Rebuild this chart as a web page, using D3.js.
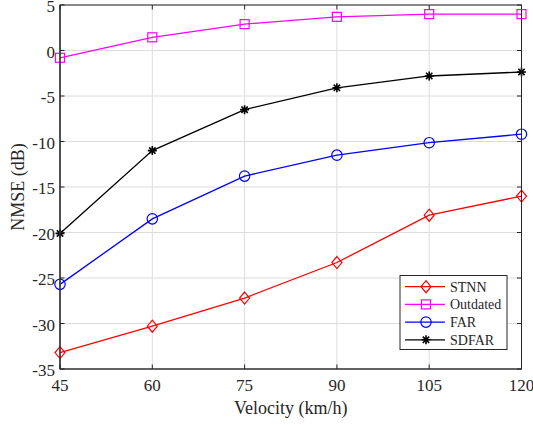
<!DOCTYPE html>
<html><head><meta charset="utf-8">
<script src="https://cdn.jsdelivr.net/npm/d3@7"></script>
<style>body{margin:0;background:#fff}svg{display:block}</style>
</head><body><div id="c"></div>
<script>
const velocity = [45, 60, 75, 90, 105, 120];
const stnn = [-33.2, -30.3, -27.2, -23.3, -18.1, -16.0];
const outdated = [-0.8, 1.45, 2.9, 3.7, 4.0, 4.0];
const far = [-25.7, -18.5, -13.8, -11.5, -10.13, -9.2];
const sdfar = [-20.1, -11.0, -6.5, -4.1, -2.8, -2.36];
const xTicks = [45, 60, 75, 90, 105, 120];
const yTicks = [-35, -30, -25, -20, -15, -10, -5, 0, 5];
const seriesNames = ["STNN", "Outdated", "FAR", "SDFAR"];

const W = 533, H = 425;
const m = {l: 60, r: 11.5, t: 5, b: 56};
const svg = d3.select("#c").append("svg").attr("width", W).attr("height", H)
  .style("font-family", "'Liberation Serif','Times New Roman',serif");
const x = d3.scaleLinear().domain([45, 120]).range([m.l, W - m.r]);
const y = d3.scaleLinear().domain([-35, 5]).range([H - m.b, m.t]);

// grid
const g = svg.append("g");
g.selectAll(".gx").data(xTicks).join("line")
  .attr("x1", d => x(d)).attr("x2", d => x(d)).attr("y1", y(-35)).attr("y2", y(5))
  .attr("stroke", "#dcdcdc").attr("stroke-width", 1);
g.selectAll(".gy").data(yTicks).join("line")
  .attr("y1", d => y(d)).attr("y2", d => y(d)).attr("x1", x(45)).attr("x2", x(120))
  .attr("stroke", "#dcdcdc").attr("stroke-width", 1);

const series = [
  {name: seriesNames[0], vals: stnn, color: "#ff0000", marker: "diamond"},
  {name: seriesNames[1], vals: outdated, color: "#ff00ff", marker: "square"},
  {name: seriesNames[2], vals: far, color: "#0000ff", marker: "circle"},
  {name: seriesNames[3], vals: sdfar, color: "#000000", marker: "star"}
];

function drawMarker(sel, type, cx, cy, color) {
  if (type === "diamond") {
    sel.append("path").attr("d", `M${cx},${cy-6}L${cx+5},${cy}L${cx},${cy+6}L${cx-5},${cy}Z`)
      .attr("fill", "none").attr("stroke", color).attr("stroke-width", 1.2);
  } else if (type === "square") {
    sel.append("rect").attr("x", cx-4.5).attr("y", cy-4.5).attr("width", 9).attr("height", 9)
      .attr("fill", "none").attr("stroke", color).attr("stroke-width", 1.2);
  } else if (type === "circle") {
    sel.append("circle").attr("cx", cx).attr("cy", cy).attr("r", 5.2)
      .attr("fill", "none").attr("stroke", color).attr("stroke-width", 1.2);
  } else {
    const r = 4.5;
    let d = "";
    for (let k = 0; k < 4; k++) {
      const a = k * Math.PI / 4;
      d += `M${cx - r*Math.cos(a)},${cy - r*Math.sin(a)}L${cx + r*Math.cos(a)},${cy + r*Math.sin(a)}`;
    }
    sel.append("path").attr("d", d).attr("stroke", color).attr("stroke-width", 1.6);
  }
}

const line = d3.line().x(d => x(d[0])).y(d => y(d[1]));
series.forEach(s => {
  const pts = velocity.map((v, i) => [v, s.vals[i]]);
  svg.append("path").attr("d", line(pts)).attr("fill", "none")
    .attr("stroke", s.color).attr("stroke-width", 1.3);
  const mg = svg.append("g");
  pts.forEach(p => drawMarker(mg, s.marker, x(p[0]), y(p[1]), s.color));
});

// axes box
const ax = svg.append("g");
ax.append("rect").attr("x", x(45)).attr("y", y(5)).attr("width", x(120) - x(45)).attr("height", y(-35) - y(5))
  .attr("fill", "none").attr("stroke", "#262626").attr("stroke-width", 1);
ax.append("line").attr("x1", x(45)).attr("x2", x(120)).attr("y1", y(-35)).attr("y2", y(-35))
  .attr("stroke", "#555").attr("stroke-width", 1.6);
ax.append("line").attr("x1", x(45)).attr("x2", x(45)).attr("y1", y(-35)).attr("y2", y(5))
  .attr("stroke", "#333").attr("stroke-width", 1.3);
const tl = 4.5;
xTicks.forEach(t => {
  ax.append("line").attr("x1", x(t)).attr("x2", x(t)).attr("y1", y(-35)).attr("y2", y(-35) - tl).attr("stroke", "#262626");
  ax.append("line").attr("x1", x(t)).attr("x2", x(t)).attr("y1", y(5)).attr("y2", y(5) + tl).attr("stroke", "#262626");
  ax.append("text").attr("x", x(t)).attr("y", y(-35) + 22).attr("text-anchor", "middle")
    .attr("font-size", 17).attr("fill", "#262626").text(t);
});
yTicks.forEach(t => {
  ax.append("line").attr("x1", x(45)).attr("x2", x(45) + tl).attr("y1", y(t)).attr("y2", y(t)).attr("stroke", "#262626");
  ax.append("line").attr("x1", x(120)).attr("x2", x(120) - tl).attr("y1", y(t)).attr("y2", y(t)).attr("stroke", "#262626");
  ax.append("text").attr("x", x(45) - 5).attr("y", y(t) + 7).attr("text-anchor", "end")
    .attr("font-size", 17).attr("fill", "#262626").text(t);
});
svg.append("text").attr("x", (x(45) + x(120)) / 2).attr("y", 414).attr("text-anchor", "middle")
  .attr("font-size", 18).attr("fill", "#262626").text("Velocity (km/h)");
svg.append("text").attr("transform", `translate(24,${(y(5) + y(-35)) / 2}) rotate(-90)`)
  .attr("text-anchor", "middle").attr("font-size", 18).attr("fill", "#262626").text("NMSE (dB)");

// legend
const lg = svg.append("g");
const lx = 400, ly = 275.5, lw = 107, lh = 74;
lg.append("rect").attr("x", lx).attr("y", ly).attr("width", lw).attr("height", lh)
  .attr("fill", "#fff").attr("stroke", "#262626").attr("stroke-width", 1);
series.forEach((s, i) => {
  const yy = ly + 11.2 + i * 17.7;
  lg.append("line").attr("x1", lx + 5).attr("x2", lx + 45).attr("y1", yy).attr("y2", yy)
    .attr("stroke", s.color).attr("stroke-width", 1.3);
  drawMarker(lg, s.marker, lx + 26, yy, s.color);
  lg.append("text").attr("x", lx + 50).attr("y", yy + 4.8).attr("font-size", 14)
    .attr("fill", "#262626").text(s.name);
});
</script></body></html>
